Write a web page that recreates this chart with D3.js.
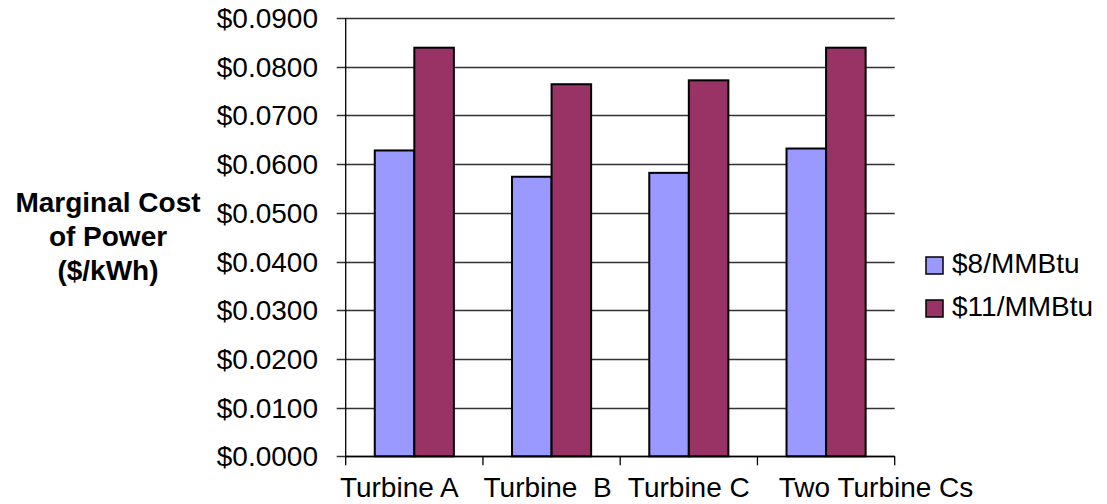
<!DOCTYPE html>
<html>
<head>
<meta charset="utf-8">
<script src="https://cdn.jsdelivr.net/npm/d3@7"></script>
<style>
  html, body { margin: 0; padding: 0; background: #fff; }
  svg text { font-family: "Liberation Sans", Arial, sans-serif; fill: #000; white-space: pre; }
</style>
</head>
<body>
<svg id="chart" width="1107" height="504"></svg>
<script>
// ---- data ----
const categories = ["Turbine A", "Turbine  B", "Turbine C", "Two Turbine Cs"];
const seriesNames = ["$8/MMBtu", "$11/MMBtu"];
const values8 = [0.0628, 0.0574, 0.0582, 0.0632];
const values11 = [0.0839, 0.0764, 0.0772, 0.0839];
const yTicks = [0, 0.01, 0.02, 0.03, 0.04, 0.05, 0.06, 0.07, 0.08, 0.09];
const titleLines = ["Marginal Cost", "of Power", "($/kWh)"];
const colors = ["#9999FF", "#993366"];

// ---- layout ----
const svg = d3.select("#chart");
const plot = { left: 345.7, right: 894.7, top: 18, bottom: 456.3 };
const labelShift = [-15, -4, 0, 50]; // horizontal nudges of category labels (layout)

const x = d3.scaleBand().domain(categories).range([plot.left, plot.right]).padding(0);
const y = d3.scaleLinear().domain([0, 0.09]).range([plot.bottom, plot.top]);
const barW = x.bandwidth() / 3.47;
const x1 = d3.scaleBand().domain(seriesNames).range([0, barW * 2]).padding(0);
const groupOffset = (x.bandwidth() - barW * 2) / 2;

// gridlines
svg.append("g").selectAll("line").data(yTicks).join("line")
  .attr("x1", plot.left - 9).attr("x2", plot.right)
  .attr("y1", d => Math.round(y(d)) + 0.5).attr("y2", d => Math.round(y(d)) + 0.5)
  .attr("stroke", "#333").attr("stroke-width", 1.3);

// y tick labels
svg.append("g").selectAll("text").data(yTicks).join("text")
  .attr("x", 318).attr("y", d => y(d) + 10)
  .attr("text-anchor", "end").attr("font-size", 28)
  .text(d => "$" + d3.format(".4f")(d));

// bars
const rows = categories.map((c, i) => ({ cat: c, vals: [values8[i], values11[i]] }));
const groups = svg.append("g").selectAll("g").data(rows).join("g")
  .attr("transform", d => `translate(${x(d.cat) + groupOffset},0)`);
groups.selectAll("rect").data(d => d.vals.map((v, j) => ({ v, j }))).join("rect")
  .attr("x", d => x1(seriesNames[d.j]))
  .attr("width", x1.bandwidth())
  .attr("y", d => y(d.v))
  .attr("height", d => y(0) - y(d.v))
  .attr("fill", d => colors[d.j])
  .attr("stroke", "#000").attr("stroke-width", 2);

// y axis line
svg.append("line").attr("x1", plot.left).attr("x2", plot.left)
  .attr("y1", plot.top).attr("y2", plot.bottom).attr("stroke", "#000").attr("stroke-width", 1.3);
// x axis line
svg.append("line").attr("x1", plot.left).attr("x2", plot.right)
  .attr("y1", Math.round(plot.bottom) + 0.5).attr("y2", Math.round(plot.bottom) + 0.5)
  .attr("stroke", "#000").attr("stroke-width", 1.5);
// x ticks at category boundaries
const bounds = categories.map(c => x(c)).concat([plot.right]);
svg.append("g").selectAll("line").data(bounds).join("line")
  .attr("x1", d => d).attr("x2", d => d)
  .attr("y1", plot.bottom).attr("y2", plot.bottom + 9)
  .attr("stroke", "#000").attr("stroke-width", 1.3);

// x labels
svg.append("g").selectAll("text").data(categories).join("text")
  .attr("x", (d, i) => x(d) + x.bandwidth() / 2 + labelShift[i]).attr("y", 496.5)
  .attr("text-anchor", "middle").attr("font-size", 28)
  .text(d => d);

// title
svg.append("g").selectAll("text").data(titleLines).join("text")
  .attr("x", 108).attr("y", (d, i) => 212 + i * 34)
  .attr("text-anchor", "middle").attr("font-size", 28).attr("font-weight", "bold")
  .text(d => d);

// legend
const leg = svg.append("g").selectAll("g").data(seriesNames).join("g")
  .attr("transform", (d, i) => `translate(926,${257 + i * 43})`);
leg.append("rect").attr("width", 17).attr("height", 17)
  .attr("fill", (d, i) => colors[i]).attr("stroke", "#000").attr("stroke-width", 1.5);
leg.append("text").attr("x", 26).attr("y", 16).attr("font-size", 28).text(d => d);
</script>
</body>
</html>
